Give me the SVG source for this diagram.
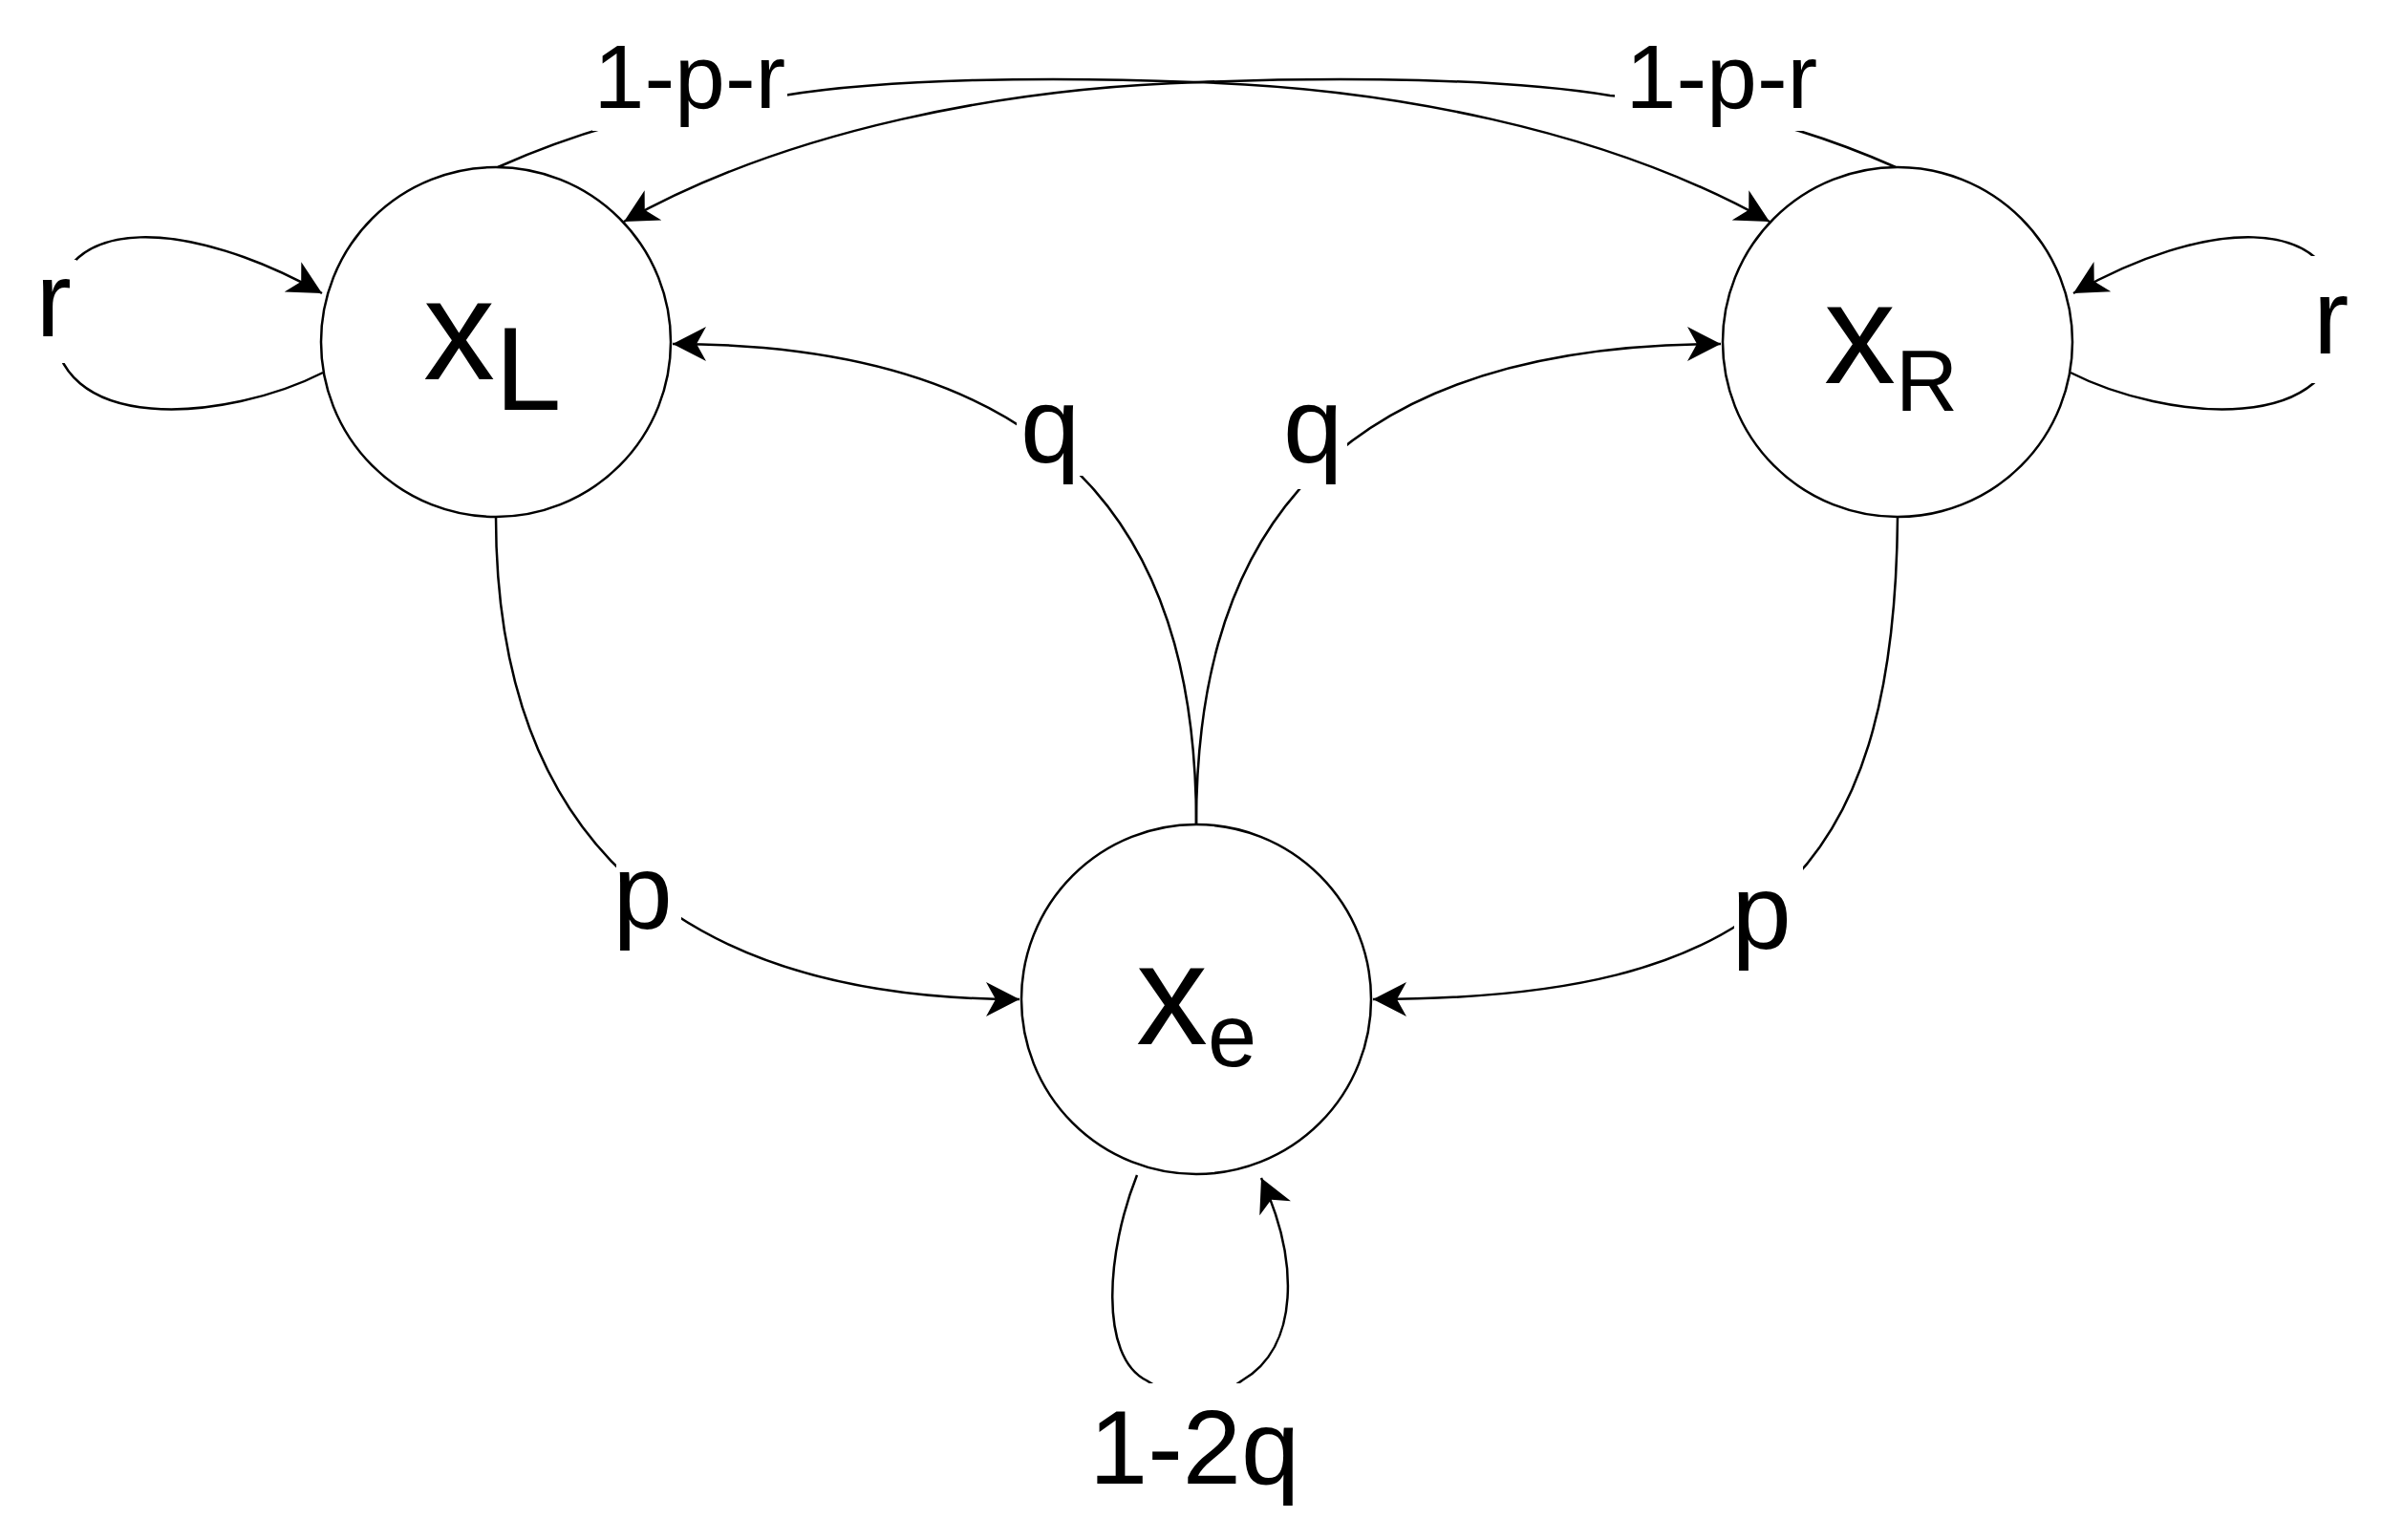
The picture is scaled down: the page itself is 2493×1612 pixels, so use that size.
<svg xmlns="http://www.w3.org/2000/svg" width="2493" height="1612" viewBox="0 0 2493 1612">
  <style>
    .edge { fill: none; stroke: #000; stroke-width: 2.5; }
    .node { fill: #fff; stroke: #000; stroke-width: 2.5; }
    .lbg { fill: #fff; stroke: none; }
    text { font-family: "Liberation Sans", Arial, Helvetica, sans-serif; fill: #000; }
    .lbl { font-size: 112px; }
    .lbl-s { font-size: 95px; }
    .big { font-size: 150px; }
  </style>
  <defs>
    <marker id="arr" markerUnits="userSpaceOnUse" markerWidth="40" markerHeight="40" viewBox="-37 -20 40 40" refX="0" refY="0" orient="auto">
      <path d="M0,0 L-35,-18 L-25,0 L-35,18 Z" fill="#000" stroke="none"/>
    </marker>
  </defs>
  <rect width="2493" height="1612" fill="#fff"/>

  <g id="connectors">
    <path id="e-xl-xr" class="edge" marker-end="url(#arr)" d="M 521 175 C 600 140, 700 108, 820 100 C 930 82, 1100 80, 1250 86 C 1450 92, 1680 135, 1852 232"/>
    <path id="e-xr-xl" class="edge" marker-end="url(#arr)" d="M 1984 175 C 1905 140, 1805 108, 1685 100 C 1575 82, 1405 80, 1255 86 C 1055 92, 825 135, 653 232"/>
    <path id="e-xl-loop" class="edge" marker-end="url(#arr)" d="M 338 390 C 240 440, 50 460, 56 330 C 60 220, 200 230, 337 307"/>
    <path id="e-xr-loop" class="edge" marker-end="url(#arr)" d="M 2167 390 C 2265 440, 2455 460, 2449 330 C 2445 220, 2305 230, 2170 307"/>
    <path id="e-xe-xl" class="edge" marker-end="url(#arr)" d="M 1252 863 C 1252 600, 1150 360, 704 360"/>
    <path id="e-xe-xr" class="edge" marker-end="url(#arr)" d="M 1252 863 C 1252 600, 1355 360, 1801 360"/>
    <path id="e-xl-xe" class="edge" marker-end="url(#arr)" d="M 519 541 C 519 870, 700 1046, 1067 1046"/>
    <path id="e-xr-xe" class="edge" marker-end="url(#arr)" d="M 1986 541 C 1983 920, 1840 1046, 1437 1046"/>
    <path id="e-xe-loop" class="edge" marker-end="url(#arr)" d="M 1190 1230 C 1158 1310, 1150 1420, 1200 1445 C 1235 1468, 1270 1468, 1300 1445 C 1360 1410, 1360 1320, 1320 1233"/>

    <g id="edge-labels">
      <rect class="lbg" x="620" y="40" width="204" height="97"/>
      <text class="lbl-s" x="621.6" y="113">1-p-r</text>
      <rect class="lbg" x="1690" y="40" width="204" height="97"/>
      <text class="lbl-s" x="1701.6" y="113">1-p-r</text>
      <rect class="lbg" x="35" y="272" width="45" height="108"/>
      <text class="lbl" x="37.4" y="352">r</text>
      <rect class="lbg" x="2418" y="268" width="45" height="133"/>
      <text class="lbl" x="2421" y="370">r</text>
      <rect class="lbg" x="1064" y="418" width="72" height="80"/>
      <text class="lbl" x="1068" y="484">q</text>
      <rect class="lbg" x="1340" y="418" width="70" height="94"/>
      <text class="lbl" x="1343" y="484">q</text>
      <rect class="lbg" x="645" y="905" width="68" height="97"/>
      <text class="lbl" x="641.6" y="972">p</text>
      <rect class="lbg" x="1815" y="900" width="72" height="122"/>
      <text class="lbl" x="1812.6" y="993">p</text>
      <rect class="lbg" x="1138" y="1448" width="224" height="134"/>
      <text x="1140" y="1553" style="font-size:110px">1-2q</text>
    </g>
  </g>

  <g id="node-xl">
    <circle class="node" cx="519" cy="358" r="183"/>
    <text class="big" x="443" y="397">x<tspan x="518" y="429" style="font-size:125px">L</tspan></text>
  </g>
  <g id="node-xr">
    <circle class="node" cx="1986" cy="358" r="183"/>
    <text class="big" x="1909" y="401">x<tspan x="1984" y="430" style="font-size:90px">R</tspan></text>
  </g>
  <g id="node-xe">
    <circle class="node" cx="1252" cy="1046" r="183"/>
    <text class="big" x="1189" y="1093">x<tspan x="1264" y="1116" style="font-size:92px">e</tspan></text>
  </g>
</svg>
